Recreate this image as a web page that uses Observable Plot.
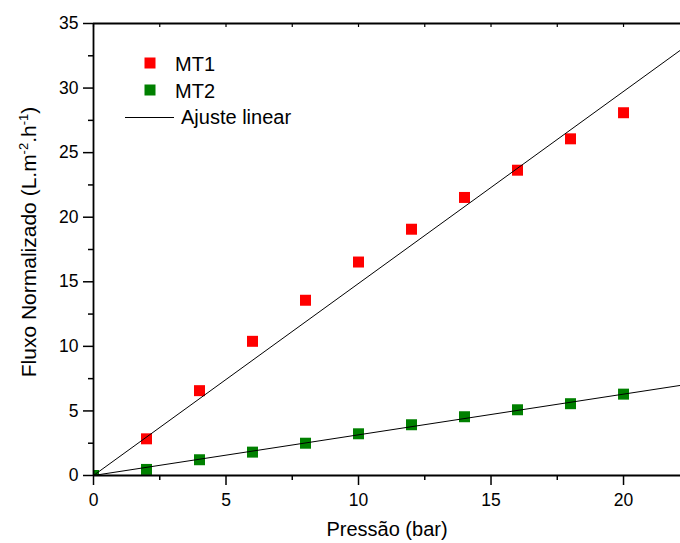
<!DOCTYPE html>
<html>
<head>
<meta charset="utf-8">
<script src="https://cdn.jsdelivr.net/npm/d3@7"></script>
<script src="https://cdn.jsdelivr.net/npm/@observablehq/plot@0.6"></script>
<style>
  html, body { margin: 0; padding: 0; background: #fff; overflow: hidden; }
  #chart svg { display: block; }
</style>
</head>
<body>
<div id="chart"></div>
<script>
// ---- data ----
const pressure = [0, 2, 4, 6, 8, 10, 12, 14, 16, 18, 20];
const mt1 = [0, 2.84, 6.57, 10.39, 13.57, 16.53, 19.07, 21.53, 23.64, 26.07, 28.09];
const mt2 = [0, 0.47, 1.22, 1.81, 2.50, 3.23, 3.93, 4.55, 5.09, 5.56, 6.30];
const fitX = [0, 22.15];
const fitSlopeMT1 = 1.487;
const fitSlopeMT2 = 0.315;
const xTicks = [0, 5, 10, 15, 20];
const xMinorTicks = [2.5, 7.5, 12.5, 17.5];
const yTicks = [0, 5, 10, 15, 20, 25, 30, 35];
const yMinorTicks = [2.5, 7.5, 12.5, 17.5, 22.5, 27.5, 32.5];
const seriesNames = ["MT1", "MT2"];
const seriesColors = ["#ff0000", "#008000"];
const fitLabel = "Ajuste linear";
const xTitle = "Pressão (bar)";

const d1 = pressure.map((p, i) => ({p, v: mt1[i]}));
const d2 = pressure.map((p, i) => ({p, v: mt2[i]}));
const f1 = fitX.map(p => ({p, v: p * fitSlopeMT1}));
const f2 = fitX.map(p => ({p, v: p * fitSlopeMT2}));

const font = "'Liberation Sans', Arial, Helvetica, sans-serif";

const chart = Plot.plot({
  width: 680,
  height: 543,
  marginLeft: 93,
  marginRight: 0,
  marginTop: 23,
  marginBottom: 68,
  style: {fontFamily: font, fontSize: "17.5px", color: "#000", background: "#fff"},
  x: {domain: [0, 22.15]},
  y: {domain: [0, 35]},
  marks: [
    Plot.axisY({ticks: yTicks, tickSize: 10, tickPadding: 5, label: null, strokeWidth: 1.5, fontSize: 17.5}),
    Plot.axisY({ticks: yMinorTicks, tickSize: 5, tickFormat: () => "", label: null, strokeWidth: 1.5}),
    Plot.axisX({ticks: xTicks, tickSize: 10, tickPadding: 8, label: null, strokeWidth: 1.5, fontSize: 17.5}),
    Plot.axisX({ticks: xMinorTicks, tickSize: 5, tickFormat: () => "", label: null, strokeWidth: 1.5}),
    Plot.axisX({anchor: "top", ticks: [...xTicks, ...xMinorTicks], tickSize: -3, tickFormat: () => "", label: null, strokeWidth: 1.2}),
    Plot.dot(d1, {x: "p", y: "v", symbol: "square", fill: seriesColors[0], r: 6.2, clip: true}),
    Plot.dot(d2, {x: "p", y: "v", symbol: "square", fill: seriesColors[1], r: 6.2, clip: true}),
    Plot.line(f1, {x: "p", y: "v", stroke: "#000", strokeWidth: 1}),
    Plot.line(f2, {x: "p", y: "v", stroke: "#000", strokeWidth: 1}),
    Plot.ruleX([0], {stroke: "#000", strokeWidth: 1.8}),
    Plot.ruleY([0], {stroke: "#000", strokeWidth: 1.8}),
    Plot.ruleY([35], {stroke: "#000", strokeWidth: 1.8}),
    Plot.text([xTitle], {frameAnchor: "bottom", dy: 60, fontSize: 20, fill: "#000"})
  ]
});

document.getElementById("chart").appendChild(chart);

// ---- y title with superscripts ----
const svg = d3.select(chart);
const yt = svg.append("text")
  .attr("transform", "translate(36,242) rotate(-90)")
  .attr("text-anchor", "middle")
  .style("font-family", font)
  .style("font-size", "21px")
  .attr("fill", "#000");
yt.append("tspan").text("Fluxo Normalizado (L.m");
yt.append("tspan").attr("dy", -8).style("font-size", "13px").text("-2");
yt.append("tspan").attr("dy", 8).text(".h");
yt.append("tspan").attr("dy", -8).style("font-size", "13px").text("-1");
yt.append("tspan").attr("dy", 8).text(")");

// ---- legend ----
const lg = svg.append("g").style("font-family", font).style("font-size", "20px").attr("text-anchor", "start");
const rows = [{y: 63, name: seriesNames[0], color: seriesColors[0]}, {y: 90, name: seriesNames[1], color: seriesColors[1]}];
rows.forEach(r => {
  lg.append("rect").attr("x", 144.5).attr("y", r.y - 5.5).attr("width", 11).attr("height", 11).attr("fill", r.color);
  lg.append("text").attr("x", 175).attr("y", r.y + 8).attr("fill", "#000").attr("text-anchor", "start").text(r.name);
});
lg.append("line").attr("x1", 125).attr("x2", 174).attr("y1", 117.5).attr("y2", 117.5).attr("stroke", "#000").attr("stroke-width", 1);
lg.append("text").attr("x", 181).attr("y", 124).attr("fill", "#000").attr("text-anchor", "start").text(fitLabel);
</script>
</body>
</html>
